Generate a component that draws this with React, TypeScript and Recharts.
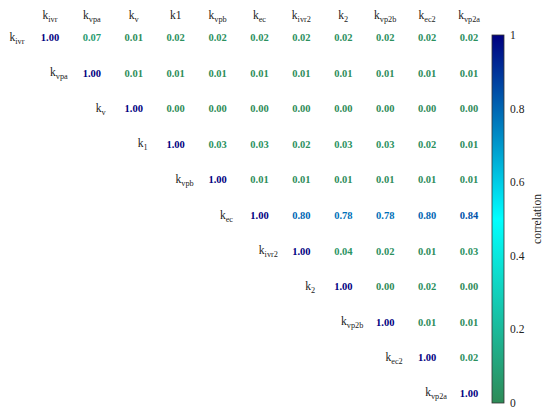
import React from 'react'
import { ScatterChart, Scatter, XAxis, YAxis, BarChart, Bar } from 'recharts'

// column headers (top) and row labels (left of the diagonal)
const colLabels = ['k_ivr', 'k_vpa', 'k_v', 'k1', 'k_vpb', 'k_ec', 'k_ivr2', 'k_2', 'k_vp2b', 'k_ec2', 'k_vp2a']
const rowLabels = ['k_ivr', 'k_vpa', 'k_v', 'k_1', 'k_vpb', 'k_ec', 'k_ivr2', 'k_2', 'k_vp2b', 'k_ec2', 'k_vp2a']

// upper triangle, each row starts at the diagonal
const corrRows: number[][] = [
  [1.0, 0.07, 0.01, 0.02, 0.02, 0.02, 0.02, 0.02, 0.02, 0.02, 0.02],
  [1.0, 0.01, 0.01, 0.01, 0.01, 0.01, 0.01, 0.01, 0.01, 0.01],
  [1.0, 0.0, 0.0, 0.0, 0.0, 0.0, 0.0, 0.0, 0.0],
  [1.0, 0.03, 0.03, 0.02, 0.03, 0.03, 0.02, 0.01],
  [1.0, 0.01, 0.01, 0.01, 0.01, 0.01, 0.01],
  [1.0, 0.8, 0.78, 0.78, 0.8, 0.84],
  [1.0, 0.04, 0.02, 0.01, 0.03],
  [1.0, 0.0, 0.02, 0.0],
  [1.0, 0.01, 0.01],
  [1.0, 0.02],
  [1.0],
]

const colorbarTicks = [0, 0.2, 0.4, 0.6, 0.8, 1]
const cmapStops = [
  { at: 0, color: [46, 139, 87] },
  { at: 0.5, color: [0, 255, 255] },
  { at: 1, color: [0, 0, 128] },
]

const FONT = "'Liberation Serif', 'Times New Roman', 'DejaVu Serif', serif"

function cmap(v: number) {
  let i = 0
  while (i < cmapStops.length - 2 && v > cmapStops[i + 1].at) i++
  const a = cmapStops[i], b = cmapStops[i + 1]
  const t = Math.min(1, Math.max(0, (v - a.at) / (b.at - a.at)))
  const c = a.color.map((x, k) => Math.round(x + (b.color[k] - x) * t))
  return `rgb(${c[0]},${c[1]},${c[2]})`
}

const cells = corrRows.flatMap((r, row) => r.map((v, j) => ({ row, col: row + j, v })))
const rowLabelData = rowLabels.map((label, i) => ({ row: i, col: i, label }))

function KLabel({ x, y, text, size = 11.5, anchor = 'middle' }: any) {
  const [base, sub] = text.split('_')
  return (
    <text x={x} y={y} textAnchor={anchor} style={{ fontFamily: FONT, fontSize: size, fill: '#222' }}>
      <tspan>{base}</tspan>
      {sub && <tspan dy={3} style={{ fontSize: size * 0.72 }}>{sub}</tspan>}
    </text>
  )
}

const HeadTick = ({ x, y, payload }: any) => (
  <KLabel x={x} y={y + 7} text={colLabels[payload.value]} />
)

const ValueShape = ({ cx, cy, payload }: any) => (
  <text x={cx} y={cy} textAnchor="middle" dominantBaseline="central"
    style={{ fontFamily: FONT, fontWeight: 'bold', fontSize: 10.5, fill: cmap(payload.v) }}>
    {payload.v.toFixed(2)}
  </text>
)

const RowLabelShape = ({ cx, cy, payload }: any) => (
  <KLabel x={cx - 33} y={cy + 3} text={payload.label} />
)

const ColorbarShape = ({ x, y, width, height }: any) => (
  <g>
    <defs>
      <linearGradient id="cbGrad" x1="0" y1="1" x2="0" y2="0">
        {cmapStops.map(s => (
          <stop key={s.at} offset={s.at} stopColor={cmap(s.at)} />
        ))}
      </linearGradient>
    </defs>
    <rect x={x} y={y} width={width} height={height} fill="url(#cbGrad)" stroke="#333" strokeWidth={0.8} />
  </g>
)

export default function App() {
  const idx = colLabels.map((_, i) => i)
  return (
    <div style={{ position: 'fixed', left: 0, top: 0, width: 550, height: 412, background: '#fff' }}>
      <ScatterChart width={550} height={412} margin={{ top: 0, right: 60, bottom: 1, left: 29 }}>
        <XAxis type="number" dataKey="col" orientation="top" domain={[-0.5, 10.5]} ticks={idx}
          height={20} axisLine={false} tickLine={false} tick={<HeadTick />} interval={0} />
        <YAxis type="number" dataKey="row" domain={[-0.5, 10.5]} reversed hide />
        <Scatter data={cells} shape={<ValueShape />} isAnimationActive={false} />
        <Scatter data={rowLabelData} shape={<RowLabelShape />} isAnimationActive={false} />
      </ScatterChart>
      <div style={{ position: 'absolute', left: 470, top: 0 }}>
        <BarChart width={80} height={412} data={[{ name: 'cb', v: 1 }]}
          margin={{ top: 35, right: 0, bottom: 9, left: 22 }} barCategoryGap={0}>
          <XAxis dataKey="name" hide />
          <YAxis orientation="right" domain={[0, 1]} ticks={colorbarTicks} width={46}
            axisLine={false} tickLine={false} tickSize={2} tickMargin={4}
            tick={{ style: { fontFamily: FONT, fontSize: 11.5 }, fill: '#222' }}
            tickFormatter={(v: number) => (v === 0 || v === 1 ? String(v) : v.toFixed(1))}
            label={{
              content: ({ viewBox }: any) => {
                const lx = viewBox.x + viewBox.width - 13
                const ly = viewBox.y + viewBox.height / 2
                return (
                  <text x={lx} y={ly} transform={`rotate(-90 ${lx} ${ly})`} textAnchor="middle"
                    dominantBaseline="central" style={{ fontFamily: FONT, fontSize: 11.5, fill: '#222' }}>
                    correlation
                  </text>
                )
              },
            }} />
          <Bar dataKey="v" shape={<ColorbarShape />} isAnimationActive={false} />
        </BarChart>
      </div>
    </div>
  )
}
